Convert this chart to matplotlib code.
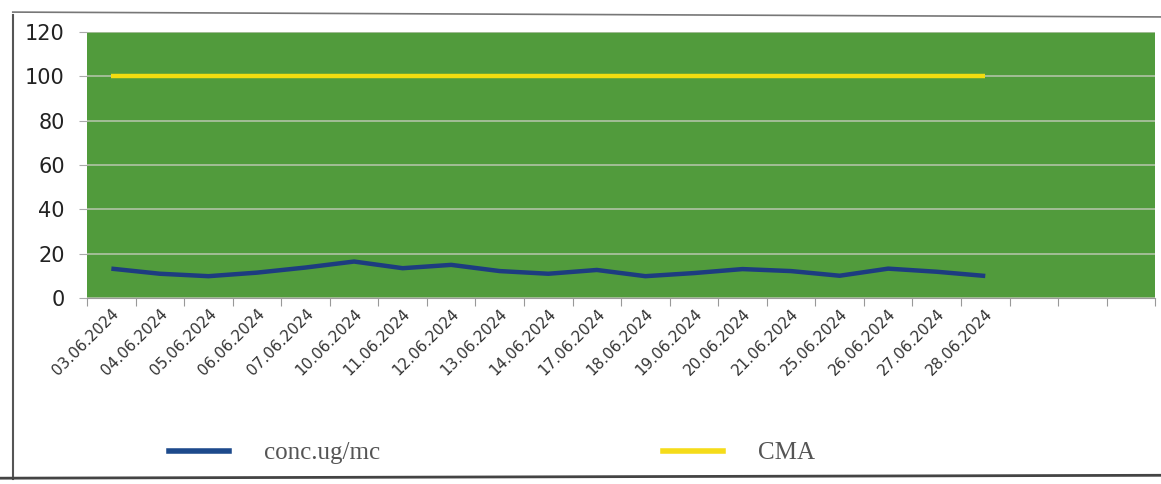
import numpy as np
import matplotlib.pyplot as plt
from matplotlib.lines import Line2D

# dates on the category axis (3 empty categories follow the data)
dates = ['03.06.2024', '04.06.2024', '05.06.2024', '06.06.2024', '07.06.2024',
         '10.06.2024', '11.06.2024', '12.06.2024', '13.06.2024', '14.06.2024',
         '17.06.2024', '18.06.2024', '19.06.2024', '20.06.2024', '21.06.2024',
         '25.06.2024', '26.06.2024', '27.06.2024', '28.06.2024']
n_empty = 3

conc = [13.3, 11.0, 9.9, 11.5, 13.8, 16.5, 13.5, 15.0, 12.2, 11.0,
        12.7, 9.9, 11.3, 13.1, 12.2, 10.1, 13.3, 11.9, 10.0]
cma = [100] * len(dates)

yticks = [0, 20, 40, 60, 80, 100, 120]

fig = plt.figure(figsize=(11.61, 4.84), dpi=100)
ax = fig.add_axes([0.075, 0.384, 0.920, 0.550])
ax.set_facecolor('#519b3c')

x = np.arange(len(dates))
ax.plot(x, conc, color='#1d3c80', lw=3.2, solid_capstyle='butt', zorder=3)
ax.plot(x, cma, color='#f2dc10', lw=3.2, solid_capstyle='butt', zorder=3)

ncat = len(dates) + n_empty
ax.set_xlim(-0.5, ncat - 0.5)
ax.set_ylim(0, 120)

ax.set_yticks(yticks)
ax.set_yticklabels([str(v) for v in yticks], fontsize=15, color='#222222')
ax.yaxis.grid(True, color='#b9c7ae', lw=1.1)
ax.set_axisbelow(True)

ax.set_xticks(np.arange(ncat + 1) - 0.5)
ax.set_xticklabels([])
ax.set_xticks(x, minor=True)
ax.set_xticklabels(dates, minor=True, rotation=45, ha='right', va='top',
                   rotation_mode='anchor', fontsize=11, color='#333333')
ax.tick_params(axis='x', which='major', length=6, color='#999999', direction='out')
ax.tick_params(axis='x', which='minor', length=0, pad=6)
ax.tick_params(axis='y', length=6, color='#aaaaaa', pad=10)

for s in ['top', 'right', 'left']:
    ax.spines[s].set_visible(False)
ax.spines['bottom'].set_color('#9a9a9a')

handles = [Line2D([], [], color='#1d4a8c', lw=4),
           Line2D([], [], color='#f5dc1a', lw=4)]
fig.legend(handles, ['conc.ug/mc', 'CMA'], loc='center', bbox_to_anchor=(0.424, 0.064),
           ncol=2, frameon=False, handlelength=2.4, columnspacing=11.3, handletextpad=1.4,
           labelcolor='#555555', prop={'family': 'Liberation Serif', 'size': 18})

# outer frame of the scanned chart
fig.add_artist(Line2D([0.011, 0.011], [0.01, 0.97], color='#555555', lw=1.5))
fig.add_artist(Line2D([0.011, 1.0], [0.975, 0.965], color='#777777', lw=1.2))
fig.add_artist(Line2D([0.0, 1.0], [0.012, 0.018], color='#444444', lw=2))

fig.savefig('out.png', dpi=100)
